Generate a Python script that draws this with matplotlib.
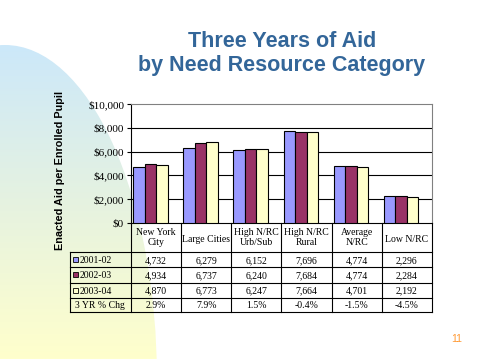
import numpy as np
import matplotlib
matplotlib.use("Agg")
import matplotlib.pyplot as plt
from matplotlib.patches import Ellipse, Rectangle

# data
categories = ["New York\nCity", "Large Cities", "High N/RC\nUrb/Sub", "High N/RC\nRural", "Average\nN/RC", "Low N/RC"]
years = ["2001-02", "2002-03", "2003-04"]
aid_0102 = [4732, 6279, 6152, 7696, 4774, 2296]
aid_0203 = [4934, 6737, 6240, 7684, 4774, 2284]
aid_0304 = [4870, 6773, 6247, 7664, 4701, 2192]
pct_chg = ["2.9%", "7.9%", "1.5%", "-0.4%", "-1.5%", "-4.5%"]
yticks = [0, 2000, 4000, 6000, 8000, 10000]

series = [aid_0102, aid_0203, aid_0304]
colors = ["#9999FF", "#993366", "#FFFFCC"]

W, H = 479, 359
fig = plt.figure(figsize=(W / 100, H / 100), dpi=100)

# background with gradient shape, pixel coords
bg = fig.add_axes([0, 0, 1, 1])
bg.set_xlim(0, W)
bg.set_ylim(H, 0)
bg.axis("off")
top = np.array([0.80, 0.91, 0.98])
mid = np.array([0.90, 0.95, 0.88])
bot = np.array([1.0, 1.0, 0.80])
t = np.linspace(0, 1, 256)[:, None]
grad = np.where(t < 0.5, top + (mid - top) * (t / 0.5), mid + (bot - mid) * ((t - 0.5) / 0.5))
img = bg.imshow(grad[:, None, :].repeat(2, axis=1), extent=[0, 170, H, 45], aspect="auto", zorder=0)
ell = Ellipse((5, 380), 2 * 152, 2 * 335, transform=bg.transData, facecolor="none", edgecolor="none")
bg.add_patch(ell)
img.set_clip_path(ell)

# chart area
x0, x1, y0, y1 = 131, 432, 223, 104
ax = fig.add_axes([x0 / W, 1 - y0 / H, (x1 - x0) / W, (y0 - y1) / H])
ax.set_facecolor("none")
n = len(categories)
idx = np.arange(n)
bw = 0.23
off = 0.04
for k, (vals, c) in enumerate(zip(series, colors)):
    ax.bar(idx + off + bw * (k + 0.5), vals, width=bw, color=c, edgecolor="black", linewidth=0.8, zorder=3)
ax.set_xlim(0, n)
ax.set_ylim(0, 10000)
ax.set_yticks(yticks)
ax.set_yticklabels(["${:,}".format(v) for v in yticks], fontfamily="Liberation Serif", fontsize=8)
ax.set_xticks([])
ax.tick_params(axis="y", length=3, width=0.8, pad=2)
for v in yticks[1:-1]:
    ax.axhline(v, color="black", linewidth=0.8, zorder=1)
ax.spines["top"].set_color("#808080")
ax.spines["right"].set_color("#808080")
ax.spines["left"].set_color("black")
ax.spines["bottom"].set_color("black")
for s in ax.spines.values():
    s.set_linewidth(0.8)

fig.text(60 / W, 1 - 170 / H, "Enacted Aid per Enrolled Pupil", rotation=90, ha="center", va="center",
         fontsize=7.8, fontweight="bold", family="Liberation Sans")

# data table below the chart
ov = fig.add_axes([0, 0, 1, 1])
ov.set_xlim(0, W)
ov.set_ylim(H, 0)
ov.axis("off")
ov.patch.set_alpha(0)
cw = (x1 - x0) / n
cols = [x0 + i * cw for i in range(n + 1)]
rows = [223, 252, 267, 282.5, 297.5, 311.5]
lk = dict(color="black", linewidth=0.8)
tf = dict(family="Liberation Serif", fontsize=7, ha="center", va="center")
for c in cols:
    ov.plot([c, c], [rows[0], rows[-1]], **lk)
ov.plot([70, 70], [rows[1], rows[-1]], **lk)
for r in rows[1:]:
    ov.plot([70, x1], [r, r], **lk)
for i, cat in enumerate(categories):
    cx = (cols[i] + cols[i + 1]) / 2
    ov.text(cx, 237.5 + (2 if "\n" not in cat else 0), cat, linespacing=1.25, **tf)
    for j, vals in enumerate(series):
        ov.text(cx, (rows[j + 1] + rows[j + 2]) / 2 + 1, "{:,}".format(vals[i]), **tf)
    ov.text(cx, (rows[4] + rows[5]) / 2 + 1, pct_chg[i], **tf)
for j, (yr, c) in enumerate(zip(years, colors)):
    cy = (rows[j + 1] + rows[j + 2]) / 2
    ov.add_patch(Rectangle((73, cy - 2.5), 5, 5, facecolor=c, edgecolor="black", linewidth=0.6))
    ov.text(80, cy + 1, yr, **dict(tf, ha="left"))
ov.text(100, (rows[4] + rows[5]) / 2 + 1, "3 YR % Chg", **tf)

# title
fig.text(282 / W, 1 - 47 / H, "Three Years of Aid", ha="center", va="baseline", fontsize=15.5,
         fontweight="bold", family="Liberation Sans", color="#336699")
fig.text(282 / W, 1 - 70.5 / H, "by Need Resource Category", ha="center", va="baseline", fontsize=15.5,
         fontweight="bold", family="Liberation Sans", color="#336699")

fig.text(457 / W, 1 - 339 / H, "11", ha="center", va="center", fontsize=7.5, family="Liberation Sans", color="#FF9933")

fig.savefig("out.png", dpi=100)
